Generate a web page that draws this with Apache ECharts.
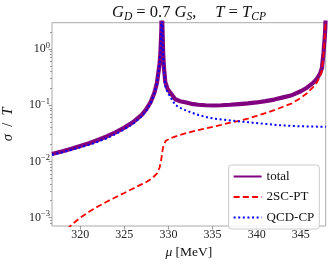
<!DOCTYPE html>
<html><head><meta charset="utf-8">
<script src="https://cdn.jsdelivr.net/npm/echarts@6/dist/echarts.min.js"></script>
<style>html,body{margin:0;padding:0;background:#fff}#c{width:330px;height:267px}</style>
</head><body><div id="c"></div>
<script>
const xTicks = [320, 325, 330, 335, 340, 345];
const yMajorTicks = [1e-3, 1e-2, 1e-1, 1];
const yMinorTicks = [8e-4, 9e-4, 2e-3, 3e-3, 4e-3, 5e-3, 6e-3, 7e-3, 8e-3, 9e-3,
  0.02, 0.03, 0.04, 0.05, 0.06, 0.07, 0.08, 0.09, 0.2, 0.3, 0.4, 0.5, 0.6, 0.7, 0.8, 0.9, 2];

const seriesNames = ['total', '2SC-PT', 'QCD-CP'];

const muTotal = [316.8, 318, 319, 320, 321, 322, 323, 324, 325, 326, 327, 327.5, 328, 328.4, 328.7, 329.0, 329.1, 329.2, 329.25,
  329.27, 329.3, 329.4, 329.5, 329.64, 329.9, 330.2, 330.77, 331.3, 331.9, 332.6, 333.4, 334.2, 335.1, 336, 337, 338, 339, 340,
  341, 342, 343, 344, 345, 345.7, 346.4, 346.84, 347.2, 347.4, 347.58, 347.7, 347.78, 347.85];
const total = [0.0136, 0.0152, 0.0168, 0.0188, 0.0210, 0.0240, 0.0278, 0.0330, 0.0400, 0.0500, 0.068, 0.085, 0.115, 0.165, 0.25, 0.55, 0.9, 2.2, 8,
  8, 3.2, 0.85, 0.45, 0.26, 0.195, 0.168, 0.128, 0.118, 0.113, 0.106, 0.102, 0.100, 0.099, 0.100, 0.102, 0.105, 0.108, 0.112,
  0.118, 0.126, 0.138, 0.151, 0.177, 0.205, 0.25, 0.296, 0.37, 0.46, 0.85, 1.45, 2.25, 5];

const muSC = [318.5, 319, 320, 321, 322, 323, 324, 325, 326, 327, 327.6, 328.2, 328.7, 329.0, 329.15, 329.26, 329.35, 329.45, 329.7,
  330.2, 331, 332, 333, 334, 335, 336, 337, 338, 339, 340, 341, 342, 343, 344, 345, 345.7, 346.4, 346.84, 347.2, 347.4, 347.58,
  347.7, 347.78, 347.85];
const sc2 = [0.00062, 0.00074, 0.00100, 0.00127, 0.00158, 0.00192, 0.00230, 0.00275, 0.00330, 0.00395, 0.0044, 0.0051, 0.0061, 0.0078, 0.0100, 0.013, 0.0165, 0.0196, 0.0233,
  0.0258, 0.0286, 0.0318, 0.0349, 0.038, 0.0412, 0.0448, 0.0489, 0.0525, 0.0575, 0.0645, 0.0725, 0.0815, 0.094, 0.108, 0.135, 0.163, 0.21, 0.255, 0.33, 0.42, 0.8,
  1.4, 2.2, 5];

const muQCD = [316.8, 318, 319, 320, 321, 322, 323, 324, 325, 326, 327, 327.5, 328, 328.4, 328.7, 329.0, 329.1, 329.2, 329.25,
  329.27, 329.3, 329.4, 329.5, 329.64, 329.9, 330.2, 330.77, 331.3, 331.9, 332.6, 333.4, 334.2, 335.1, 336, 336.6, 337.5, 338.5,
  339.5, 340.4, 341.3, 342.3, 343.2, 344.2, 345.5, 346.5, 347.85];
const qcd = [0.0131, 0.0146, 0.0161, 0.0178, 0.0197, 0.0224, 0.0259, 0.0307, 0.0372, 0.0467, 0.064, 0.0806, 0.11, 0.1595, 0.244, 0.54, 0.89, 2.19, 8,
  8, 3, 0.8, 0.42, 0.22, 0.17, 0.142, 0.101, 0.09, 0.082, 0.074, 0.067, 0.062, 0.058, 0.0558, 0.0546, 0.0527, 0.0508,
  0.049, 0.0476, 0.046, 0.0444, 0.0435, 0.0427, 0.042, 0.0417, 0.0413];

const pairs = (xs, ys) => xs.map((x, i) => [x, ys[i]]);
const SERIF = 'Liberation Serif';

const chart = echarts.init(document.getElementById('c'), null, {renderer: 'canvas'});

const yCommon = {
  type: 'log', logBase: 10, min: 7.1e-4, max: 2.94, position: 'left',
  splitLine: {show: false}, axisLine: {show: false}
};

const tI = {fontFamily: SERIF, fontStyle: 'italic', fontWeight: 'normal', fontSize: 16.5, lineHeight: 20, color: '#111'};
const tN = {fontFamily: SERIF, fontWeight: 'normal', fontSize: 16.5, lineHeight: 20, color: '#111'};
const tS = {fontFamily: SERIF, fontStyle: 'italic', fontWeight: 'normal', fontSize: 11.5, lineHeight: 10, verticalAlign: 'bottom', color: '#111'};

chart.setOption({
  animation: false,
  backgroundColor: '#fff',
  title: {
    text: '{i|G}{sub|D}{n| = 0.7 }{i|G}{sub|S}{n|,}{g| }{i|T}{n| = }{i|T}{sub|CP}',
    left: 112, top: 2.5, padding: 0,
    textStyle: {
      fontWeight: 'normal',
      rich: {i: tI, n: tN, sub: tS, g: Object.assign({}, tN, {width: 19})}
    }
  },
  grid: {left: 52, right: 4.3, top: 22.7, bottom: 41, show: true, borderColor: '#aaa', borderWidth: 1, outerBoundsMode: 'none', containLabel: false},
  legend: {
    orient: 'vertical', right: 10.7, top: 165, itemWidth: 28, itemHeight: 10, itemGap: 7.5,
    padding: [5, 5, 5, 4], backgroundColor: 'rgba(255,255,255,0.85)', borderColor: '#ccc', borderWidth: 1, borderRadius: 3,
    itemStyle: {opacity: 0},
    textStyle: {fontFamily: SERIF, fontSize: 13, color: '#111'},
    data: seriesNames
  },
  xAxis: {
    type: 'value', min: 316.8, max: 347.83,
    name: '{i|μ} {n|[MeV]}', nameLocation: 'middle', nameGap: 19,
    nameTextStyle: {rich: {
      i: {fontFamily: SERIF, fontStyle: 'italic', fontSize: 13.5, color: '#111'},
      n: {fontFamily: SERIF, fontSize: 13.5, color: '#111'}
    }},
    splitLine: {show: false}, axisLine: {show: false},
    axisTick: {show: true, customValues: xTicks, length: 3.5, lineStyle: {color: '#999'}},
    axisLabel: {customValues: xTicks, margin: 3, fontFamily: SERIF, fontSize: 12, color: '#222'}
  },
  yAxis: [
    Object.assign({}, yCommon, {
      name: '{i|σ}{n|  /  }{i|T}', nameLocation: 'middle', nameGap: 36, nameRotate: 90,
      nameTextStyle: {rich: {
        i: {fontFamily: SERIF, fontStyle: 'italic', fontSize: 14.5, color: '#111'},
        n: {fontFamily: SERIF, fontSize: 14.5, color: '#111'}
      }},
      axisTick: {show: true, customValues: yMajorTicks, length: 3.5, lineStyle: {color: '#999'}},
      axisLabel: {
        customValues: yMajorTicks, margin: 2,
        formatter: v => { const e = Math.round(Math.log10(v)); return '{b|10}{s|' + (e < 0 ? '\u2212' + (-e) : e) + '}'; },
        rich: {
          b: {fontFamily: SERIF, fontSize: 12, lineHeight: 16, color: '#222'},
          s: {fontFamily: SERIF, fontSize: 8.5, lineHeight: 8, verticalAlign: 'top', color: '#222'}
        }
      }
    }),
    Object.assign({}, yCommon, {
      axisTick: {show: true, customValues: yMinorTicks, length: 2, lineStyle: {color: '#999'}},
      axisLabel: {show: false}
    })
  ],
  series: [
    {name: seriesNames[0], type: 'line', data: pairs(muTotal, total), symbol: 'none', clip: true,
      lineStyle: {color: '#800080', width: 4.2}, itemStyle: {color: '#800080'}, z: 1},
    {name: seriesNames[1], type: 'line', data: pairs(muSC, sc2), symbol: 'none', clip: true,
      lineStyle: {color: '#ff0000', width: 1.8, type: [6, 3.2]}, itemStyle: {color: '#ff0000'}, z: 2},
    {name: seriesNames[2], type: 'line', data: pairs(muQCD, qcd), symbol: 'none', clip: true,
      lineStyle: {color: '#0000ff', width: 2, type: [2, 2.6]}, itemStyle: {color: '#0000ff'}, z: 3}
  ]
});
</script></body></html>
